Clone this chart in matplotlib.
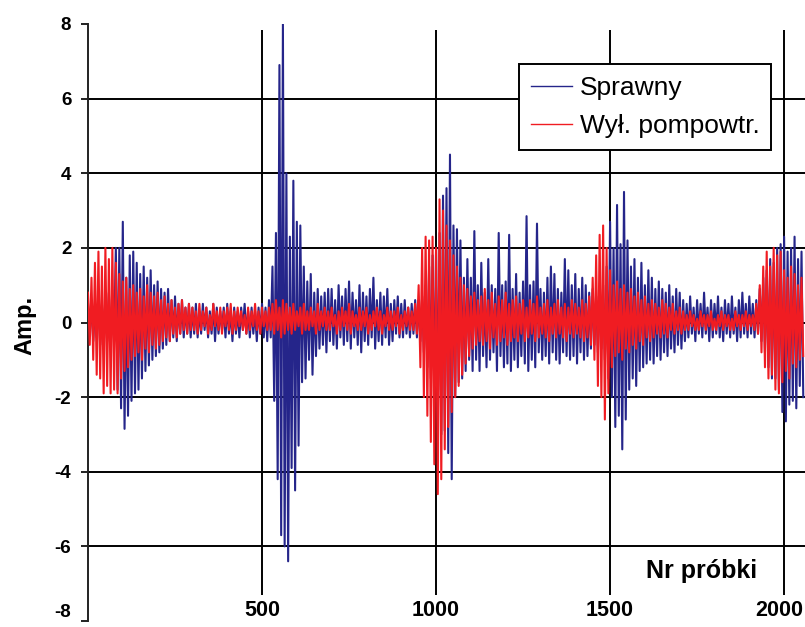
import numpy as np
import matplotlib
matplotlib.use('Agg')
import matplotlib.pyplot as plt

plt.rcParams['font.family'] = ['Liberation Sans', 'DejaVu Sans']
plt.rcParams['axes.unicode_minus'] = False

# samples are read in bins of 10: one peak (hi) and one trough (lo) per bin
BIN = 10

sprawny_hi = [
    0.5, 0.6, 0.4, 0.7, 0.5, 0.6, 0.8, 0.7, 2.0, 2.0,
    2.7, 1.2, 1.8, 1.9, 1.6, 1.3, 1.5, 1.2, 1.4, 1.0,
    1.1, 0.9, 0.8, 0.9, 0.6, 0.7, 0.5, 0.6, 0.4, 0.5,
    0.4, 0.5, 0.3, 0.5, 0.4, 0.3, 0.5, 0.4, 0.3, 0.4,
    0.5, 0.3, 0.4, 0.3, 0.4, 0.5, 0.3, 0.4, 0.3, 0.4,
    0.5, 0.4, 0.6, 1.5, 2.4, 6.9, 8.0, 4.0, 2.3, 3.8,
    2.7, 2.6, 1.5, 1.1, 1.3, 0.8, 0.9, 0.7, 0.8, 0.9,
    0.9, 0.6, 1.0, 0.7, 0.9, 1.1, 0.8, 0.6, 1.0, 0.8,
    0.7, 0.9, 1.2, 0.6, 0.8, 0.7, 0.9, 0.5, 0.6, 0.7,
    0.5, 0.6, 0.4, 0.5, 0.6, 0.6, 0.7, 1.0, 1.5, 1.8,
    2.0, 2.4, 3.4, 3.6, 4.5, 2.6, 2.5, 2.2, 1.2, 1.7,
    1.2, 2.45, 1.0, 1.6, 0.8, 1.7, 1.0, 0.9, 2.4, 1.0,
    1.1, 2.35, 0.9, 1.3, 0.8, 1.1, 2.85, 1.0, 1.1, 2.65,
    0.9, 0.8, 1.2, 1.5, 1.3, 0.9, 0.8, 1.7, 1.4, 1.0,
    1.3, 0.9, 1.2, 1.0, 0.8, 0.9, 0.7, 0.8, 1.0, 1.5,
    2.7, 2.0, 3.15, 2.1, 3.5, 2.2, 1.5, 1.7, 1.2, 1.6,
    1.0, 1.4, 1.2, 0.9, 1.1, 0.9, 0.8, 1.0, 0.7, 0.9,
    0.8, 0.6, 0.5, 0.7, 0.4, 0.6, 0.5, 0.8, 0.4, 0.6,
    0.5, 0.7, 0.4, 0.6, 0.5, 0.7, 0.4, 0.6, 0.8, 0.5,
    0.7, 0.5, 0.6, 0.9, 1.2, 1.4, 1.7, 1.6, 2.0, 2.1,
    2.3, 1.9, 2.0, 2.3, 1.7, 1.9,
]
sprawny_lo = [
    -0.3, -0.5, -0.4, -0.6, -0.4, -0.5, -0.6, -0.5, -1.8, -2.3,
    -2.85, -2.5, -2.1, -1.9, -1.8, -1.5, -1.3, -1.15, -1.0, -0.9,
    -0.8, -0.7, -0.6, -0.5, -0.4, -0.5, -0.3, -0.4, -0.3, -0.4,
    -0.3, -0.4, -0.3, -0.2, -0.4, -0.3, -0.5, -0.3, -0.2, -0.4,
    -0.3, -0.5, -0.3, -0.4, -0.2, -0.3, -0.4, -0.3, -0.5, -0.3,
    -0.4, -0.5, -0.4, -2.1, -4.2, -5.7, -6.0, -6.4, -3.9, -4.5,
    -3.3, -1.6, -1.5, -1.0, -1.4, -0.9, -0.7, -0.6, -0.8, -0.5,
    -0.6, -0.7, -0.4, -0.6, -0.5, -0.7, -0.4, -0.6, -0.8, -0.5,
    -0.6, -0.4, -0.7, -0.5, -0.6, -0.4, -0.6, -0.5, -0.3, -0.4,
    -0.4, -0.3, -0.4, -0.3, -0.4, -0.5, -0.8, -1.2, -1.5, -2.0,
    -2.6, -3.0, -2.9, -3.5, -4.2, -2.0, -1.6, -1.5, -1.3, -1.0,
    -1.3, -1.0, -1.3, -0.9, -1.2, -1.0, -0.8, -1.3, -0.9, -1.2,
    -1.1, -1.3, -1.0, -1.2, -0.9, -1.1, -1.3, -1.0, -1.2, -0.8,
    -1.0, -0.9, -1.1, -0.8, -1.0, -1.1, -0.8, -0.9, -1.0, -0.9,
    -1.1, -0.8, -1.0, -0.9, -0.7, -0.6, -0.8, -0.7, -1.0, -1.5,
    -2.0, -2.8, -2.5, -3.4, -2.6, -1.8, -1.5, -1.7, -1.3, -1.2,
    -1.1, -1.0, -1.1, -0.9, -1.0, -0.8, -0.9, -0.7, -0.8, -0.6,
    -0.7, -0.5, -0.4, -0.3, -0.5, -0.3, -0.4, -0.3, -0.5, -0.4,
    -0.3, -0.4, -0.5, -0.3, -0.4, -0.3, -0.5, -0.4, -0.3, -0.4,
    -0.3, -0.4, -0.3, -0.5, -0.8, -1.2, -1.5, -1.5, -1.8, -2.4,
    -2.65, -2.2, -2.1, -2.3, -1.7, -2.0,
]
wyl_hi = [
    0.8, 1.2, 1.6, 1.9, 1.5, 2.0, 1.7, 2.0, 1.6, 1.3,
    1.1, 1.2, 0.9, 1.0, 0.8, 0.9, 0.7, 1.0, 0.8, 0.7,
    0.8, 0.6, 0.7, 0.5, 0.6, 0.4, 0.5, 0.6, 0.4, 0.5,
    0.4, 0.3, 0.5, 0.3, 0.4, 0.2, 0.5, 0.3, 0.4, 0.3,
    0.4, 0.5, 0.3, 0.4, 0.3, 0.2, 0.4, 0.3, 0.5, 0.3,
    0.4, 0.3, 0.4, 0.5, 0.6, 0.4, 0.6, 0.5, 0.4, 0.5,
    0.3, 0.4, 0.5, 0.3, 0.4, 0.3, 0.5, 0.3, 0.4, 0.3,
    0.4, 0.2, 0.3, 0.4, 0.3, 0.5, 0.3, 0.2, 0.4, 0.3,
    0.4, 0.2, 0.3, 0.4, 0.3, 0.2, 0.4, 0.3, 0.3, 0.4,
    0.2, 0.3, 0.4, 0.3, 0.5, 1.0, 2.0, 2.3, 2.2, 2.3,
    2.0, 3.3, 3.0, 2.6, 2.2, 1.8, 1.5, 1.2, 1.0, 0.9,
    0.7, 0.8, 0.6, 0.7, 0.9, 0.6, 0.8, 0.5, 0.7, 0.6,
    0.8, 0.5, 0.6, 0.7, 0.5, 0.6, 0.4, 0.6, 0.5, 0.7,
    0.4, 0.5, 0.6, 0.4, 0.5, 0.6, 0.4, 0.5, 0.4, 0.6,
    0.5, 0.4, 0.6, 0.5, 0.7, 1.2, 1.8, 2.35, 2.6, 2.0,
    1.4, 1.0, 1.1, 0.9, 1.0, 0.8, 0.9, 0.7, 0.8, 0.6,
    0.7, 0.5, 0.6, 0.5, 0.4, 0.6, 0.5, 0.4, 0.5, 0.3,
    0.4, 0.3, 0.2, 0.3, 0.2, 0.1, 0.3, 0.2, 0.2, 0.3,
    0.1, 0.2, 0.3, 0.2, 0.2, 0.1, 0.3, 0.2, 0.2, 0.3,
    0.2, 0.2, 0.5, 1.0, 1.5, 1.9, 1.5, 2.0, 1.8, 1.9,
    1.4, 1.2, 1.5, 1.3, 1.0, 1.2,
]
wyl_lo = [
    -0.6, -1.0, -1.4, -1.5, -1.9, -1.7, -1.9, -1.8, -1.9, -1.5,
    -1.3, -1.2, -1.0, -0.9, -0.8, -1.0, -0.7, -0.8, -0.6, -0.7,
    -0.6, -0.5, -0.4, -0.5, -0.3, -0.4, -0.3, -0.2, -0.3, -0.2,
    -0.2, -0.3, -0.2, -0.1, -0.3, -0.2, -0.1, -0.2, -0.3, -0.1,
    -0.2, -0.3, -0.2, -0.1, -0.2, -0.3, -0.2, -0.1, -0.2, -0.3,
    -0.1, -0.2, -0.2, -0.3, -0.2, -0.4, -0.3, -0.2, -0.3, -0.2,
    -0.1, -0.3, -0.2, -0.2, -0.1, -0.3, -0.2, -0.1, -0.2, -0.2,
    -0.1, -0.3, -0.2, -0.1, -0.2, -0.3, -0.1, -0.2, -0.2, -0.1,
    -0.3, -0.2, -0.1, -0.2, -0.3, -0.1, -0.2, -0.2, -0.1, -0.3,
    -0.2, -0.1, -0.2, -0.2, -0.3, -1.2, -2.0, -2.5, -3.2, -3.8,
    -4.6, -4.2, -3.4, -2.8, -2.4, -2.0, -1.7, -1.4, -1.1, -0.9,
    -0.7, -0.6, -0.5, -0.6, -0.5, -0.7, -0.4, -0.6, -0.5, -0.4,
    -0.6, -0.5, -0.4, -0.5, -0.3, -0.5, -0.4, -0.3, -0.5, -0.4,
    -0.3, -0.4, -0.5, -0.3, -0.4, -0.3, -0.4, -0.5, -0.3, -0.4,
    -0.3, -0.4, -0.5, -0.4, -0.6, -1.0, -1.7, -2.0, -2.6, -1.9,
    -1.2, -0.9, -0.8, -1.0, -0.7, -0.8, -0.6, -0.7, -0.5, -0.6,
    -0.4, -0.5, -0.4, -0.3, -0.4, -0.3, -0.4, -0.2, -0.3, -0.2,
    -0.3, -0.2, -0.2, -0.1, -0.2, -0.2, -0.1, -0.2, -0.1, -0.2,
    -0.2, -0.1, -0.2, -0.1, -0.2, -0.2, -0.1, -0.2, -0.1, -0.2,
    -0.1, -0.2, -0.3, -0.8, -1.2, -1.5, -1.4, -1.8, -1.9, -1.6,
    -1.3, -1.5, -1.1, -1.2, -1.0, -0.9,
]

series_names = ['Sprawny', 'Wył. pompowtr.']
series_colors = ['#25258a', '#f01c22']

y_ticks = [-8, -6, -4, -2, 0, 2, 4, 6, 8]
y_grid = [-6, -4, -2, 0, 2, 4, 6]
x_ticks = [500, 1000, 1500, 2000]


def zigzag(hi, lo):
    n = min(len(hi), len(lo))
    x = np.arange(2 * n) * (BIN / 2)
    y = np.column_stack([hi[:n], lo[:n]]).ravel()
    return x, y


fig = plt.figure(figsize=(8.05, 6.27), dpi=100)
ax = fig.add_axes([88 / 805, 6 / 627, 1 - 88 / 805, 597 / 627])
ax.set_xlim(0, 2060)
ax.set_ylim(-8, 8)

# grid
for g in y_grid:
    ax.axhline(g, color='black', lw=1.4, zorder=1)
ax.vlines(x_ticks, -7.3, 7.85, color='black', lw=1.4, zorder=1)

xb, yb = zigzag(sprawny_hi, sprawny_lo)
xr, yr = zigzag(wyl_hi, wyl_lo)
ax.plot(xb, yb, color=series_colors[0], lw=1.5, label=series_names[0], zorder=2)
ax.plot(xr, yr, color=series_colors[1], lw=1.5, label=series_names[1], zorder=3)

for s in ['top', 'right', 'bottom']:
    ax.spines[s].set_visible(False)
ax.spines['left'].set_linewidth(1.4)
ax.spines['left'].set_color('#222222')

ax.set_yticks(y_ticks)
ylabels = ax.set_yticklabels([str(v) for v in y_ticks], fontweight='bold', fontsize=13.5)
ylabels[0].set_va('bottom')
ax.tick_params(axis='y', length=5, width=1.4, pad=7, color='#222222')

ax.set_xticks([])
for i, v in enumerate(x_ticks):
    last = i == len(x_ticks) - 1
    ax.text(2055 if last else v, -7.72, str(v), fontsize=15.5, fontweight='bold',
            ha='right' if last else 'center', va='center')

ax.text(1764, -6.67, 'Nr próbki', fontsize=18, fontweight='bold',
        ha='center', va='center')
fig.text(25 / 805, 1 - 325 / 627, 'Amp.', fontsize=17, fontweight='bold',
         rotation=90, ha='center', va='center')

leg = ax.legend(loc='upper left', bbox_to_anchor=(519 / 805, 1 - 64 / 627),
                bbox_transform=fig.transFigure, borderaxespad=0,
                fontsize=19, handlelength=1.55, handletextpad=0.3,
                labelspacing=0.55, borderpad=0.45, fancybox=False,
                framealpha=1, edgecolor='black')
leg.get_frame().set_linewidth(1.4)
leg.set_zorder(5)
for line in leg.get_lines():
    line.set_linewidth(1.0)

fig.savefig('out.png', dpi=100)
